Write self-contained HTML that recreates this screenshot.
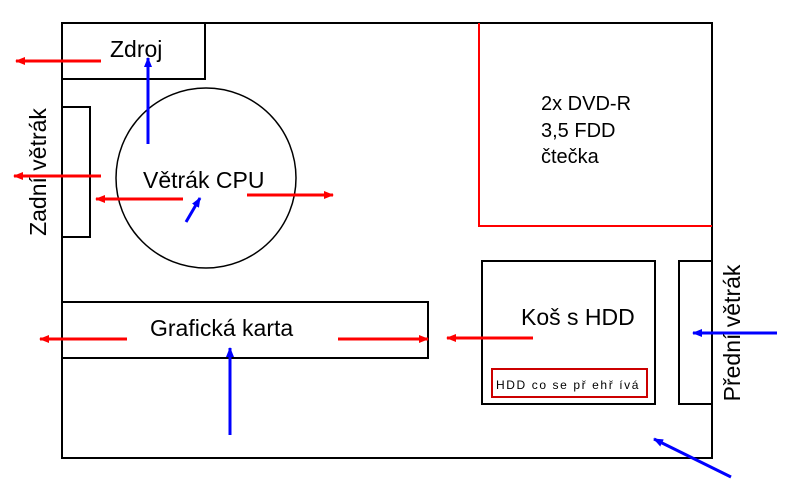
<!DOCTYPE html>
<html><head><meta charset="utf-8"><style>
html,body{margin:0;padding:0;background:#fff;}
svg{display:block;font-family:"Liberation Sans",Arial,sans-serif;}
</style></head><body>
<svg width="787" height="493" viewBox="0 0 787 493" xmlns="http://www.w3.org/2000/svg">
<defs>
<marker id="r" markerWidth="10" markerHeight="8" refX="9" refY="4" orient="auto" markerUnits="userSpaceOnUse"><path d="M0,0 L10,4 L0,8 Z" fill="#f00"/></marker>
<marker id="b" markerWidth="10" markerHeight="8" refX="9" refY="4" orient="auto" markerUnits="userSpaceOnUse"><path d="M0,0 L10,4 L0,8 Z" fill="#00f"/></marker>
</defs>
<g fill="none" stroke="#000" stroke-width="2">
<rect x="62" y="23" width="650" height="435"/>
<rect x="62" y="23" width="143" height="56"/>
<rect x="62" y="107" width="28" height="130"/>
<circle cx="206" cy="178" r="90" stroke-width="1.5"/>
<rect x="62" y="302" width="366" height="56"/>
<rect x="482" y="261" width="173" height="143"/>
<rect x="679" y="261" width="33" height="143"/>
</g>
<path d="M479,23 V226 H712" fill="none" stroke="#f00" stroke-width="2"/>
<rect x="492" y="369" width="155" height="28" fill="none" stroke="#c00" stroke-width="2"/>
<g stroke="#f00" stroke-width="3" marker-end="url(#r)">
<line x1="101" y1="61" x2="16" y2="61"/>
<line x1="101" y1="176" x2="14" y2="176"/>
<line x1="183" y1="199" x2="96" y2="199"/>
<line x1="247" y1="195" x2="333" y2="195"/>
<line x1="127" y1="339" x2="40" y2="339"/>
<line x1="338" y1="339" x2="428" y2="339"/>
<line x1="533" y1="338" x2="447" y2="338"/>
</g>
<g stroke="#00f" stroke-width="3" marker-end="url(#b)">
<line x1="148" y1="144" x2="148" y2="58"/>
<line x1="186" y1="222" x2="200" y2="198"/>
<line x1="230" y1="435" x2="230" y2="348"/>
<line x1="777" y1="333" x2="693" y2="333"/>
<line x1="731" y1="477" x2="654" y2="439"/>
</g>
<g fill="#000" font-size="23">
<text x="110" y="57">Zdroj</text>
<text x="143" y="188">Větrák CPU</text>
<text x="150" y="336">Grafická karta</text>
<text x="521" y="325">Koš s HDD</text>
<text transform="translate(46,172) rotate(-90)" text-anchor="middle">Zadní větrák</text>
<text transform="translate(740,333) rotate(-90)" text-anchor="middle">Přední větrák</text>
</g>
<g fill="#000" font-size="20">
<text x="541" y="110">2x DVD-R</text>
<text x="541" y="137">3,5 FDD</text>
<text x="541" y="163">čtečka</text>
<text x="496" y="389" font-size="12" letter-spacing="1.6">HDD co se př ehř ívá</text>
</g>
</svg>
</body></html>
